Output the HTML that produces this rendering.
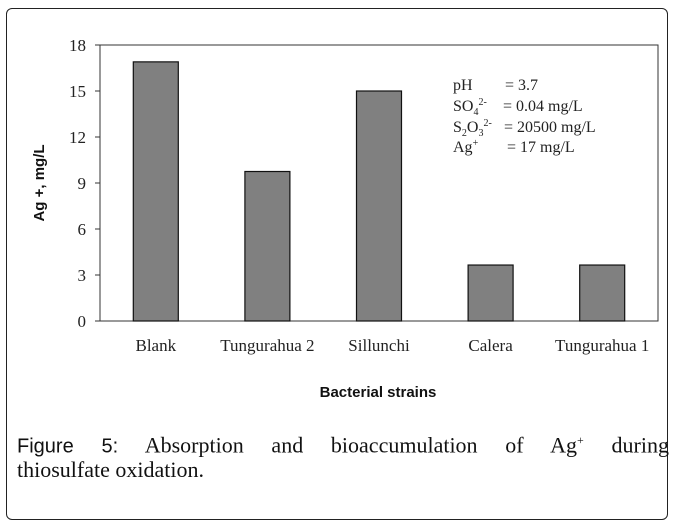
<!DOCTYPE html>
<html><head><meta charset="utf-8"><style>
body{margin:0;background:#fff;}
#wrap{position:relative;width:686px;height:529px;overflow:hidden;font-family:"Liberation Serif",serif;}
#frame{position:absolute;left:6px;top:8px;width:662px;height:512px;border:1px solid #222;border-radius:6px;box-sizing:border-box;}
#cap1{position:absolute;left:17px;top:426px;width:652px;font-size:22px;line-height:29px;text-align:justify;text-align-last:justify;color:#111;white-space:nowrap;}
#cap2{position:absolute;left:17px;top:455px;font-size:22px;line-height:29px;color:#111;}
</style></head><body>
<div id="wrap">
<div id="frame"></div>
<svg id="chart" width="686" height="420" style="position:absolute;left:0;top:0"></svg>
<div id="cap1"><span style="font-family:'Liberation Sans',sans-serif;font-size:20px">Figure 5:</span> Absorption and bioaccumulation of Ag<sup style="font-size:12px">+</sup> during</div>
<div id="cap2">thiosulfate oxidation.</div>
</div>
<script>
const categories=["Blank","Tungurahua 2","Sillunchi","Calera","Tungurahua 1"];
const values=[16.9,9.75,15.0,3.65,3.65];
const yTicks=[0,3,6,9,12,15,18];
const NS="http://www.w3.org/2000/svg";
const svg=document.getElementById('chart');
const L=100,R=658,T=45,B=321,ymax=18;
const y=v=>B-(v/ymax)*(B-T);
const bw=(R-L)/categories.length;
const x=i=>L+bw*i+bw/2;
function mk(t,a,p){const e=document.createElementNS(NS,t);for(const k in a)e.setAttribute(k,a[k]);(p||svg).appendChild(e);return e;}
let e=mk('rect',{x:L,y:T,width:R-L,height:B-T,fill:'none',stroke:'#333','stroke-width':1});


yTicks.forEach(v=>{
  let t=mk('line',{x1:L-5,x2:L,y1:y(v),y2:y(v),stroke:'#333'});
  
  
  let l=mk('text',{x:L-14,y:y(v)+6,'text-anchor':'end','font-size':17,'font-family':'Liberation Serif,serif',fill:'#222'});
  l.textContent=v;
  
  
});
values.forEach((v,i)=>{
  let r=mk('rect',{x:x(i)-22.5,y:y(v),width:45,height:B-y(v),fill:'#808080',stroke:'#111','stroke-width':1.2});
  
  
  let l=mk('text',{x:x(i),y:351,'text-anchor':'middle','font-size':17,'font-family':'Liberation Serif,serif',fill:'#222'});
  l.textContent=categories[i];
  
  
});
let yt=mk('text',{x:0,y:0,transform:'translate(44,183) rotate(-90)','text-anchor':'middle','font-size':15,'font-weight':'bold','font-family':'Liberation Sans,sans-serif',fill:'#111'});
yt.textContent='Ag +, mg/L';


let xt=mk('text',{x:378,y:397,'text-anchor':'middle','font-size':15,'font-weight':'bold','font-family':'Liberation Sans,sans-serif',fill:'#111'});
xt.textContent='Bacterial strains';


const ann=mk('g',{'font-size':16,'font-family':'Liberation Serif,serif',fill:'#222'});


ann.innerHTML='<text x="453" y="90">pH<tspan x="505">= 3.7</tspan></text>'+
'<text x="453" y="111">SO<tspan font-size="10" dy="4">4</tspan><tspan font-size="10" dy="-10">2-</tspan><tspan x="503" dy="6">= 0.04 mg/L</tspan></text>'+
'<text x="453" y="132">S<tspan font-size="10" dy="4">2</tspan><tspan dy="-4">O</tspan><tspan font-size="10" dy="4">3</tspan><tspan font-size="10" dy="-10">2-</tspan><tspan x="504" dy="6">= 20500 mg/L</tspan></text>'+
'<text x="453" y="152">Ag<tspan font-size="10" dy="-6">+</tspan><tspan x="507" dy="6">= 17 mg/L</tspan></text>';
</script>
</body></html>
